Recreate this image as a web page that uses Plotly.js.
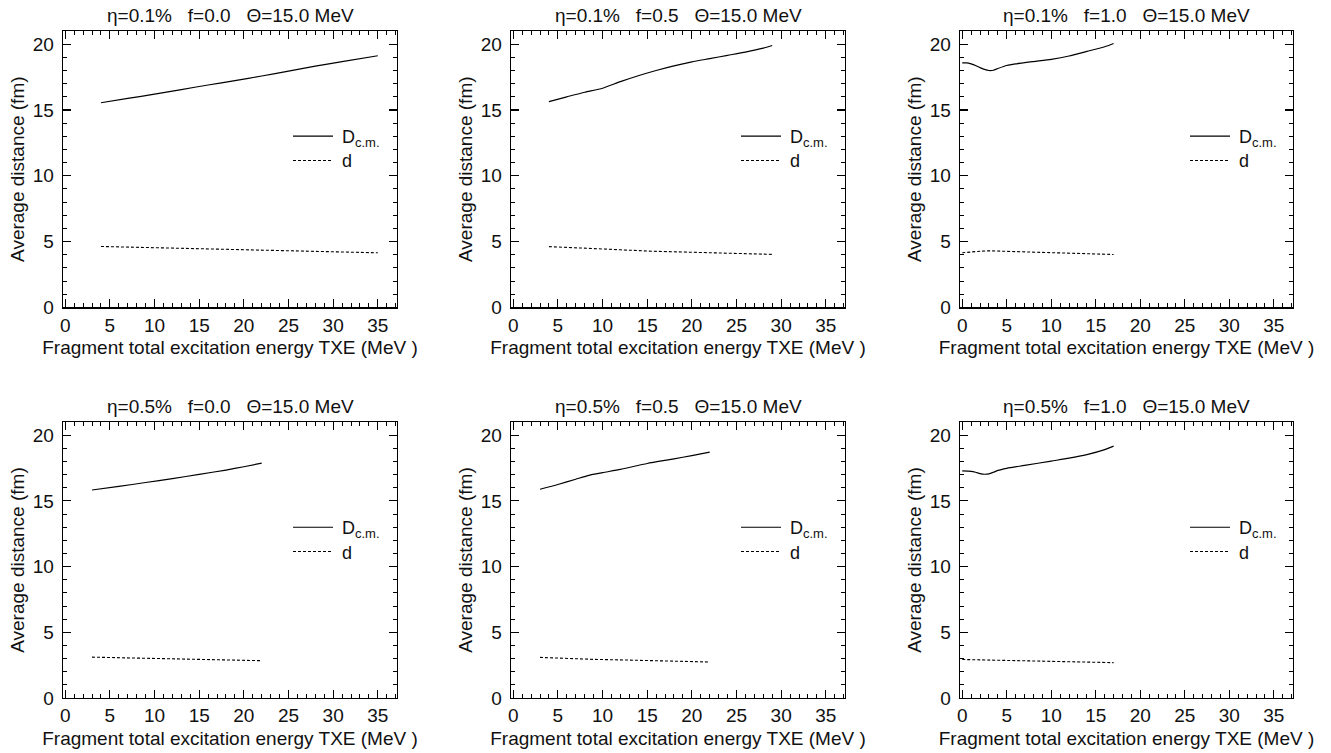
<!DOCTYPE html>
<html>
<head>
<meta charset="utf-8">
<script src="https://cdn.plot.ly/plotly-3.0.1.min.js"></script>
<style>html,body{margin:0;padding:0;background:#fff;}#chart{width:1331px;height:753px;}</style>
</head>
<body>
<div id="chart"></div>
<script>
// ---- Data (x: TXE in MeV, y: average distance in fm) ----
var panelTitles = [
  "η=0.1%\u00A0\u00A0\u00A0f=0.0\u00A0\u00A0\u00A0Θ=15.0 MeV",
  "η=0.1%\u00A0\u00A0\u00A0f=0.5\u00A0\u00A0\u00A0Θ=15.0 MeV",
  "η=0.1%\u00A0\u00A0\u00A0f=1.0\u00A0\u00A0\u00A0Θ=15.0 MeV",
  "η=0.5%\u00A0\u00A0\u00A0f=0.0\u00A0\u00A0\u00A0Θ=15.0 MeV",
  "η=0.5%\u00A0\u00A0\u00A0f=0.5\u00A0\u00A0\u00A0Θ=15.0 MeV",
  "η=0.5%\u00A0\u00A0\u00A0f=1.0\u00A0\u00A0\u00A0Θ=15.0 MeV"
];
// series labels: "D" with subscript "c.m.", and "d"
var seriesNames = ["D", "d"];
var seriesSubs = ["c.m.", ""];
var xTickVals = [0, 5, 10, 15, 20, 25, 30, 35];
var yTickVals = [0, 5, 10, 15, 20];
var xTitle = "Fragment total excitation energy TXE (MeV )";
var yTitle = "Average distance (fm)";

// panel 1: eta=0.1%, f=0.0
var p1_Dx = [4, 7, 10, 13, 16, 19, 22, 25, 28, 31, 35];
var p1_Dy = [15.55, 15.88, 16.2, 16.55, 16.9, 17.23, 17.58, 17.95, 18.33, 18.68, 19.12];
var p1_dx = [4, 10, 15, 20, 25, 30, 35];
var p1_dy = [4.63, 4.53, 4.45, 4.37, 4.29, 4.22, 4.15];

// panel 2: eta=0.1%, f=0.5
var p2_Dx = [4, 6, 8, 10, 12, 14, 16, 18, 20, 22, 24, 26, 28, 29];
var p2_Dy = [15.64, 16.0, 16.35, 16.65, 17.15, 17.6, 18.0, 18.35, 18.65, 18.9, 19.15, 19.4, 19.7, 19.9];
var p2_dx = [4, 10, 12, 15, 20, 25, 29];
var p2_dy = [4.62, 4.47, 4.38, 4.28, 4.18, 4.1, 4.03];

// panel 3: eta=0.1%, f=1.0
var p3_Dx = [0, 0.5, 1, 1.5, 2, 2.5, 3, 3.5, 4, 5, 6, 8, 10, 12, 14, 16, 17];
var p3_Dy = [18.58, 18.58, 18.5, 18.38, 18.22, 18.08, 18.0, 18.02, 18.15, 18.38, 18.5, 18.68, 18.85, 19.1, 19.45, 19.8, 20.05];
var p3_dx = [0, 1, 2, 3, 5, 8, 11, 14, 17];
var p3_dy = [4.15, 4.22, 4.27, 4.3, 4.27, 4.2, 4.15, 4.08, 4.02];

// panel 4: eta=0.5%, f=0.0
var p4_Dx = [3, 6, 9, 12, 15, 18, 20, 22];
var p4_Dy = [15.83, 16.1, 16.4, 16.7, 17.02, 17.35, 17.6, 17.87];
var p4_dx = [3, 8, 13, 18, 22];
var p4_dy = [3.11, 3.03, 2.96, 2.89, 2.84];

// panel 5: eta=0.5%, f=0.5
var p5_Dx = [3, 5, 7, 8.5, 10, 12, 15, 18, 20, 22];
var p5_Dy = [15.89, 16.25, 16.65, 16.95, 17.15, 17.4, 17.85, 18.2, 18.45, 18.72];
var p5_dx = [3, 6, 9, 12, 15, 18, 22];
var p5_dy = [3.09, 3.0, 2.94, 2.9, 2.86, 2.81, 2.74];

// panel 6: eta=0.5%, f=1.0
var p6_Dx = [0, 1, 1.5, 2, 2.5, 3, 3.5, 4, 5, 7, 10, 12, 14, 16, 17];
var p6_Dy = [17.28, 17.25, 17.18, 17.08, 17.03, 17.06, 17.18, 17.32, 17.48, 17.7, 18.03, 18.25, 18.52, 18.9, 19.17];
var p6_dx = [0, 3, 6, 9, 12, 15, 17];
var p6_dy = [2.93, 2.9, 2.85, 2.8, 2.76, 2.72, 2.69];

var panels = [
  [p1_Dx, p1_Dy, p1_dx, p1_dy],
  [p2_Dx, p2_Dy, p2_dx, p2_dy],
  [p3_Dx, p3_Dy, p3_dx, p3_dy],
  [p4_Dx, p4_Dy, p4_dx, p4_dy],
  [p5_Dx, p5_Dy, p5_dx, p5_dy],
  [p6_Dx, p6_Dy, p6_dx, p6_dy]
];

// ---- Layout geometry (pixels) ----
var W = 1331, H = 753;
var ML = 63, MR = 38, MT = 30.5, MB = 55.3;
var PW = W - ML - MR, PH = H - MT - MB;
var colLeft = [63, 511, 960];
var colRight = [397, 845, 1293];
var rowTop = [30.5, 421.7];
var rowBot = [307, 697.7];
var FONT = "Liberation Sans, Arial, Helvetica, sans-serif";
var lineStyles = [
  {color: "#000", width: 1.2},
  {color: "#000", width: 1.1, dash: "3px,2px"}
];

var traces = [];
var layout = {
  width: W, height: H,
  margin: {l: ML, r: MR, t: MT, b: MB, pad: 0},
  paper_bgcolor: "#fff", plot_bgcolor: "#fff",
  font: {family: FONT, size: 19, color: "#111"},
  showlegend: false,
  annotations: [],
  shapes: []
};

panels.forEach(function (p, i) {
  var n = i + 1;
  var xs = n === 1 ? "x" : "x" + n;
  var ys = n === 1 ? "y" : "y" + n;
  var col = i % 3, row = Math.floor(i / 3);

  traces.push({
    x: p[0], y: p[1], xaxis: xs, yaxis: ys,
    type: "scatter", mode: "lines", name: seriesNames[0] + seriesSubs[0],
    line: Object.assign({shape: "spline", smoothing: 0.6}, lineStyles[0]),
    hoverinfo: "skip"
  });
  traces.push({
    x: p[2], y: p[3], xaxis: xs, yaxis: ys,
    type: "scatter", mode: "lines", name: seriesNames[1],
    line: Object.assign({}, lineStyles[1]),
    hoverinfo: "skip"
  });

  var axCommon = {
    showline: true, linecolor: "#000", linewidth: 1.3, mirror: "ticks",
    ticks: "inside", ticklen: 8, tickwidth: 1.1, tickcolor: "#000",
    showgrid: false, zeroline: false, fixedrange: true,
    tickfont: {family: FONT, size: 19, color: "#111"}
  };
  var minor = {dtick: 1, tick0: 0, ticks: "inside", ticklen: 4, tickwidth: 1, tickcolor: "#000", showgrid: false};
  var xa = Object.assign({}, axCommon, {
    domain: [(colLeft[col] - ML) / PW, (colRight[col] - ML) / PW],
    range: [-0.25, 37.15],
    tickmode: "array", tickvals: xTickVals,
    anchor: ys, minor: Object.assign({}, minor),
    title: {text: xTitle, font: {family: FONT, size: 19, color: "#111"}, standoff: 6}
  });
  var ya = Object.assign({}, axCommon, {
    domain: [(H - MB - rowBot[row]) / PH, (H - MB - rowTop[row]) / PH],
    range: [0, 21],
    tickmode: "array", tickvals: yTickVals,
    anchor: xs, minor: Object.assign({}, minor),
    ticklabelstandoff: 4,
    title: {text: yTitle, font: {family: FONT, size: 19, color: "#111"}, standoff: 3}
  });
  layout[n === 1 ? "xaxis" : "xaxis" + n] = xa;
  layout[n === 1 ? "yaxis" : "yaxis" + n] = ya;

  // panel title
  layout.annotations.push({
    text: panelTitles[i],
    xref: xs + " domain", yref: ys + " domain",
    x: 0.5, y: 1, xanchor: "center", yanchor: "bottom",
    yshift: 3, showarrow: false,
    font: {family: FONT, size: 19, color: "#111"}
  });

  // in-panel key (line sample + label), placed in axis-domain coordinates
  var ph = rowBot[row] - rowTop[row];
  var pw = colRight[col] - colLeft[col];
  var keyY = [1 - 105.2 / ph, 1 - 129.5 / ph];
  var keyYShift = [-1, -1];
  for (var k = 0; k < 2; k++) {
    layout.shapes.push({
      type: "line", xref: xs + " domain", yref: ys + " domain",
      x0: 230 / pw, x1: 270 / pw, y0: keyY[k], y1: keyY[k],
      line: Object.assign({}, lineStyles[k])
    });
    layout.annotations.push({
      text: seriesNames[k],
      xref: xs + " domain", yref: ys + " domain",
      x: 277 / pw, y: keyY[k], xanchor: "left", yanchor: "middle",
      yshift: keyYShift[k], showarrow: false,
      font: {family: FONT, size: 18, color: "#111"}
    });
    if (seriesSubs[k]) {
      layout.annotations.push({
        text: seriesSubs[k],
        xref: xs + " domain", yref: ys + " domain",
        x: 290 / pw, y: keyY[k], xanchor: "left", yanchor: "middle",
        yshift: -6, showarrow: false,
        font: {family: FONT, size: 13, color: "#111"}
      });
    }
  }
});

Plotly.newPlot("chart", traces, layout, {staticPlot: true, displayModeBar: false});
</script>
</body>
</html>
